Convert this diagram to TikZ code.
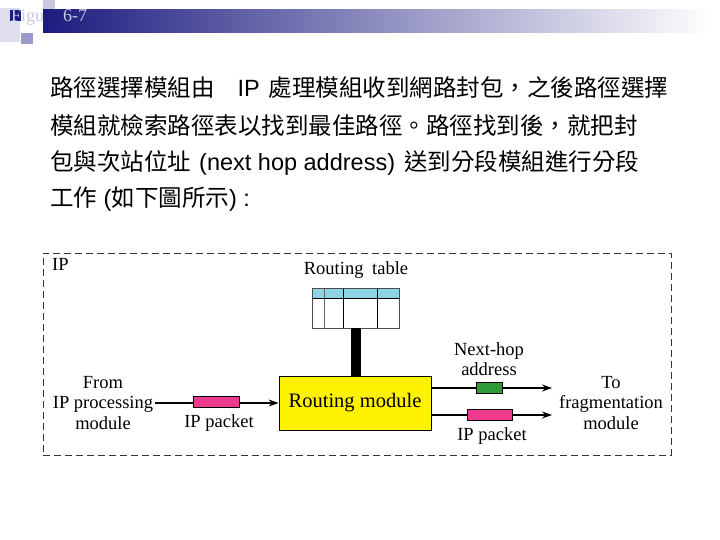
\documentclass[tikz,border=0pt]{standalone}
\usepackage{fontspec}
\setmainfont{Liberation Serif}
\newfontfamily\cjkfont{Noto Sans CJK TC}
\newfontfamily\arialfont{Liberation Sans}
\usetikzlibrary{arrows.meta}
\definecolor{navy}{HTML}{1C1C80}
\definecolor{lav}{HTML}{C8C8E2}
\definecolor{lavmid}{HTML}{9A9ACC}
\definecolor{pinkpk}{HTML}{EE3A8C}
\definecolor{greenpk}{HTML}{2E9B3A}
\definecolor{tblue}{HTML}{8FD3E6}
\newcommand\zhtxt[1]{{\cjkfont #1}}
\newcommand\latxt[1]{{\arialfont #1}}
\tikzset{
  bodyline/.style={anchor=base west, inner sep=0pt, font=\fontsize{23.5}{28}\selectfont},
  lbl/.style={font=\fontsize{18.5}{20}\selectfont, inner sep=2pt, align=center},
  packet/.style={draw=black, line width=0.8pt, minimum height=11pt, inner sep=0pt},
  flow/.style={line width=1.2pt, -{Stealth[length=10pt,width=7pt]}},
}
\begin{document}
\begin{tikzpicture}[x=1pt,y=-1pt]
\useasboundingbox (0,0) rectangle (720,540);
% header decoration
\fill[lav!60] (0,8) rectangle (20,42);
\fill[lav] (43,0) rectangle (55,22);
\fill[lavmid] (21,33) rectangle (33,44);
\shade[left color=navy, right color=white] (43,10) rectangle (712,33);
\fill[navy] (10,10) rectangle (21,21);
\node[anchor=base west, inner sep=0pt, text=lav, font=\fontsize{18}{19}\selectfont] (fig) at (11,22) {Figu};
\node[anchor=base west, inner sep=0pt, text=lav, font=\fontsize{18}{19}\selectfont] (num) at (63,22) {6-7};
% body text
\node[bodyline] (l1) at (50,97) {\zhtxt{路徑選擇模組由}\hspace{23pt}\latxt{IP}\hspace{9pt}\zhtxt{處理模組收到網路封包，之後路徑選擇}};
\node[bodyline] (l2) at (50,135) {\zhtxt{模組就檢索路徑表以找到最佳路徑。路徑找到後，就把封}};
\node[bodyline] (l3) at (50,171) {\zhtxt{包與次站位址}\hspace{8pt}\latxt{(next hop address)}\hspace{9pt}\zhtxt{送到分段模組進行分段}};
\node[bodyline] (l4) at (50,207) {\zhtxt{工作}\latxt{ (}\zhtxt{如下圖所示}\latxt{) :}};
% dashed IP box
\node[draw=black!80, dash pattern=on 7pt off 4pt, line width=0.8pt, minimum width=628pt, minimum height=202pt, inner sep=0pt] (ipbox) at (357,354) {};
\node[lbl, anchor=north west] (iplbl) at (50,256) {IP};
% routing table
\node[lbl] (rtlbl) at (356,270) {Routing\hspace{4pt} table};
\fill[tblue] (312,288) rectangle (399,298);
\draw[black!60, line width=0.8pt] (324,288) -- (324,328);
\draw[black, line width=0.8pt] (343,288) -- (343,328) (377,288) -- (377,328);
\draw[black, line width=0.8pt] (312,298) -- (399,298);
\node[draw=black!70, line width=0.8pt, minimum width=87pt, minimum height=40pt, inner sep=0pt] (tbl) at (355.5,308) {};
% routing module
\node[draw=black, fill=yellow, line width=0.8pt, minimum width=152pt, minimum height=54pt, inner sep=0pt, font=\fontsize{20.5}{21}\selectfont] (rm) at (355,403) {Routing module};
\draw[line width=10pt] ([xshift=0.5pt]tbl.south) -- ([xshift=0.5pt]tbl.south |- rm.north);
% left side
\node[lbl, font=\fontsize{18.5}{20.5}\selectfont] (from) at (103,403) {From\\IP processing\\module};
\draw[flow] (from.east) -- (rm.west);
\node[packet, fill=pinkpk, minimum width=46pt] (pk1) at (216,402) {};
\node[lbl] (pk1lbl) at (219,423) {IP packet};
% right side
\coordinate (a1) at (552,388);
\coordinate (a2) at (552,415);
\draw[flow] (rm.east |- a1) -- (a1);
\draw[flow] (rm.east |- a2) -- (a2);
\node[packet, fill=greenpk, minimum width=26pt] (pk2) at (489,388) {};
\node[packet, fill=pinkpk, minimum width=45pt] (pk3) at (489.5,415) {};
\node[lbl, font=\fontsize{18.5}{20.5}\selectfont] (nh) at (489,359) {Next-hop\\address};
\node[lbl] (pk3lbl) at (492,436) {IP packet};
\node[lbl, font=\fontsize{18.5}{20.5}\selectfont] (to) at (611,403) {To\\fragmentation\\module};
\end{tikzpicture}
\end{document}
